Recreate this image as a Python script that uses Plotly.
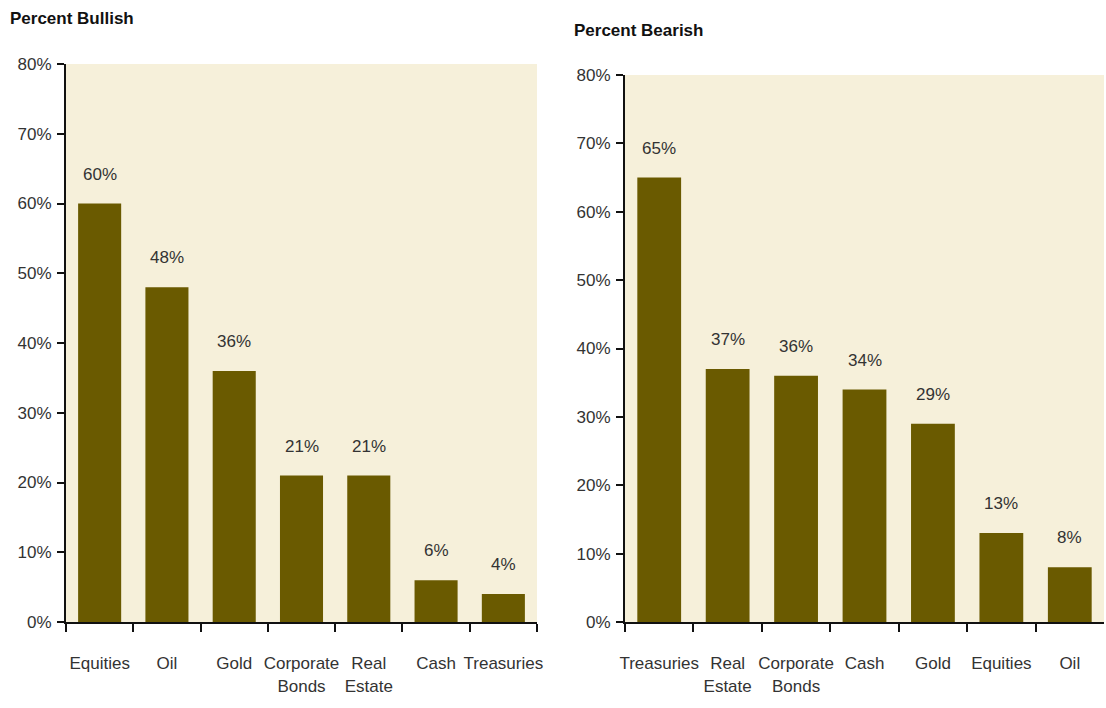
import plotly.graph_objects as go

bull_cats = ["Equities", "Oil", "Gold", "Corporate<br>Bonds", "Real<br>Estate", "Cash", "Treasuries"]
bull_vals = [60, 48, 36, 21, 21, 6, 4]
bear_cats = ["Treasuries", "Real<br>Estate", "Corporate<br>Bonds", "Cash", "Gold", "Equities", "Oil"]
bear_vals = [65, 37, 36, 34, 29, 13, 8]
y_ticks = [0, 10, 20, 30, 40, 50, 60, 70, 80]
y_tick_text = [f"{v}%" for v in y_ticks]

BAR = "#6a5a00"
BG = "#f6f0da"
FONT = "Liberation Sans, Arial, sans-serif"
TXT = "#333333"

fig = go.Figure()
fig.add_trace(go.Bar(x=bull_cats, y=bull_vals, marker=dict(color=BAR, line=dict(width=0)),
                     xaxis="x", yaxis="y", hoverinfo="x+y"))
fig.add_trace(go.Bar(x=bear_cats, y=bear_vals, marker=dict(color=BAR, line=dict(width=0)),
                     xaxis="x2", yaxis="y2", hoverinfo="x+y"))

annotations = []
for c, v in zip(bull_cats, bull_vals):
    annotations.append(dict(x=c, y=v, xref="x", yref="y", text=f"{v}%", showarrow=False,
                            yanchor="bottom", yshift=18, font=dict(size=17, color=TXT, family=FONT)))
for c, v in zip(bear_cats, bear_vals):
    annotations.append(dict(x=c, y=v, xref="x2", yref="y2", text=f"{v}%", showarrow=False,
                            yanchor="bottom", yshift=18, font=dict(size=17, color=TXT, family=FONT)))
annotations.append(dict(x=8 / 1106, y=1 - 18 / 708, xref="paper", yref="paper", text="<b>Percent Bullish</b>",
                        showarrow=False, xanchor="left", yanchor="middle",
                        font=dict(size=17, color="#111111", family=FONT)))
annotations.append(dict(x=572 / 1106, y=1 - 31 / 708, xref="paper", yref="paper", text="<b>Percent Bearish</b>",
                        showarrow=False, xanchor="left", yanchor="middle",
                        font=dict(size=17, color="#111111", family=FONT)))

xcommon = dict(type="category", showline=True, linecolor="#111111", linewidth=2, ticks="outside",
               tickson="boundaries", ticklen=8, tickwidth=2, tickcolor="#111111", tickangle=0,
               tickfont=dict(size=17, color=TXT, family=FONT), showgrid=False, zeroline=False,
               ticklabelstandoff=25, fixedrange=True, automargin=False)
ycommon = dict(range=[0, 80], tickvals=y_ticks, ticktext=y_tick_text, showline=True, linecolor="#111111",
               linewidth=2, ticks="outside", ticklen=7, tickwidth=2, tickcolor="#111111",
               tickfont=dict(size=17, color=TXT, family=FONT), showgrid=False, zeroline=False,
               ticklabelstandoff=2, fixedrange=True, automargin=False)

fig.update_layout(
    width=1106, height=708,
    margin=dict(l=0, r=0, t=0, b=0),
    paper_bgcolor="white", plot_bgcolor=BG,
    showlegend=False, bargap=0.36,
    xaxis=dict(domain=[66 / 1106, 537 / 1106], anchor="y", **xcommon),
    yaxis=dict(domain=[1 - 622 / 708, 1 - 64 / 708], anchor="x", **ycommon),
    xaxis2=dict(domain=[625 / 1106, 1104 / 1106], anchor="y2", **xcommon),
    yaxis2=dict(domain=[1 - 622 / 708, 1 - 75 / 708], anchor="x2", **ycommon),
    annotations=annotations,
)

fig.write_html("out.html")
